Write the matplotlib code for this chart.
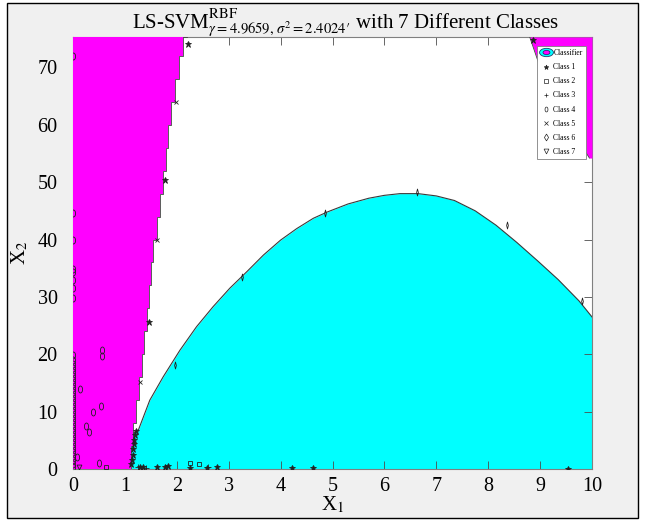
import matplotlib
matplotlib.use("Agg")
import matplotlib.pyplot as plt
from matplotlib.lines import Line2D
from matplotlib.patches import Rectangle
from matplotlib.path import Path
from matplotlib.transforms import Affine2D
from matplotlib.legend_handler import HandlerTuple

plt.rcParams["font.family"] = ["Liberation Serif", "DejaVu Serif"]
plt.rcParams["mathtext.fontset"] = "stix"

# decision region boundaries
mag_y = [0, 4, 8, 12, 16, 20, 24, 28, 32, 36, 40, 44, 48, 52, 56, 60, 64, 68, 72, 75.3]
mag_x = [1.12, 1.16, 1.22, 1.27, 1.32, 1.37, 1.42, 1.46, 1.5, 1.55, 1.62, 1.68,
         1.74, 1.79, 1.84, 1.89, 1.96, 2.04, 2.12, 2.19]
corner_y = [54.2, 60, 65, 70, 75.3]
corner_x = [9.95, 9.55, 9.25, 9.0, 8.8]
cyan_x = [1.12, 1.26, 1.48, 1.74, 2.06, 2.38, 2.7, 3.02, 3.35, 3.67, 4.0, 4.31,
          4.63, 4.9, 5.3, 5.7, 6.0, 6.3, 6.65, 7.0, 7.35, 7.75, 8.15, 8.55, 8.95,
          9.35, 9.75, 10.0]
cyan_y = [6.0, 6.8, 12.0, 16.1, 20.7, 24.8, 28.3, 31.5, 34.4, 37.3, 39.9, 41.9,
          43.7, 44.8, 46.2, 47.2, 47.7, 48.0, 48.0, 47.6, 46.8, 45.0, 42.5, 39.5,
          36.3, 33.0, 29.3, 26.5]

# samples of each class
c1_x = [1.12, 1.13, 1.15, 1.16, 1.17, 1.18, 1.2, 1.22, 1.29, 1.35, 1.62, 1.77,
        1.84, 2.25, 2.58, 2.77, 4.22, 4.63, 9.54, 1.46, 1.78, 2.22, 8.86]
c1_y = [0.8, 1.6, 2.5, 3.4, 4.3, 5.1, 5.9, 6.7, 0.4, 0.3, 0.4, 0.4, 0.5, 0.1,
        0.2, 0.4, 0.1, 0.1, 0.0, 25.6, 50.4, 74.1, 74.8]
c2_x = [0.64, 2.25, 2.43]
c2_y = [0.4, 1.0, 0.8]
c3_x = [1.25, 1.4, 2.6]
c3_y = [0.3, 0.2, 0.3]
c4_x = [0, 0, 0, 0, 0, 0, 0, 0, 0, 0, 0, 0, 0, 0, 0, 0, 0, 0, 0, 0, 0, 0, 0, 0,
        0, 0, 0, 0, 0, 0, 0, 0, 0, 0, 0, 0, 0,
        0.55, 0.55, 0.13, 0.54, 0.39, 0.25, 0.3, 0.51, 0.07]
c4_y = [0.3, 0.9, 1.5, 2.2, 2.9, 3.6, 4.3, 5.0, 5.7, 6.4, 7.1, 7.8, 8.5, 9.2,
        9.9, 10.6, 11.3, 12.0, 12.7, 13.4, 14.1, 14.8, 15.5, 16.2, 16.9, 17.6,
        18.3, 19.0, 19.9, 29.8, 31.5, 33.0, 34.3, 34.8, 39.9, 44.6, 72.0,
        20.7, 19.7, 13.9, 11.0, 9.9, 7.5, 6.4, 1.0, 2.1]
c5_x = [1.61, 1.99, 1.29]
c5_y = [39.9, 64.0, 15.2]
c6_x = [1.97, 3.25, 4.86, 6.63, 8.37, 9.8]
c6_y = [18.1, 33.5, 44.6, 48.2, 42.6, 29.2]
c7_x = [0.12]
c7_y = [0.4]

x_ticks = [0, 1, 2, 3, 4, 5, 6, 7, 8, 9, 10]
y_ticks = [0, 10, 20, 30, 40, 50, 60, 70]

MAG = "#ff00ff"
CYAN = "#00ffff"

# tall oval / thin diamond markers like the stretched MATLAB ones
oval = Path.unit_circle().transformed(Affine2D().scale(0.6, 1.0))
wide_oval = Path.unit_circle().transformed(Affine2D().scale(1.0, 0.6))
thin_dia = Path([(0, -1), (0.25, 0), (0, 1), (-0.25, 0), (0, -1)],
                [Path.MOVETO, Path.LINETO, Path.LINETO, Path.LINETO, Path.CLOSEPOLY])

fig = plt.figure(figsize=(6.47, 5.23), dpi=100)
fig.patch.set_facecolor("white")
fig.patches.append(Rectangle((7 / 647, 5 / 523), 631 / 647, 515 / 523,
                             transform=fig.transFigure, facecolor="#f0f0f0",
                             edgecolor="black", linewidth=1.0, zorder=-10))

ax = fig.add_axes([73 / 647, 54 / 523, 519 / 647, 432 / 523])
ax.set_facecolor("white")

ax.fill_between(cyan_x, 0, cyan_y, color=CYAN, linewidth=0, zorder=1)
ax.plot(cyan_x, cyan_y, color="#3a3a3a", linewidth=0.8, zorder=2)
ax.fill_betweenx(mag_y, 0, mag_x, step="post", color=MAG, linewidth=0, zorder=3)
ax.plot(mag_x, mag_y, drawstyle="steps-pre", color="#404040", linewidth=0.6, zorder=3)
ax.fill_betweenx(corner_y, corner_x, 10, color=MAG, linewidth=0, zorder=3)
ax.plot(corner_x, corner_y, color="#404040", linewidth=0.6, zorder=3)

mk = dict(linestyle="none", color="#222222", markeredgewidth=0.6, zorder=5)
ax.plot(c1_x, c1_y, marker="*", markersize=5, **mk)
ax.plot(c2_x, c2_y, marker="s", markersize=3.5, markerfacecolor="none", **mk)
ax.plot(c3_x, c3_y, marker="+", markersize=4, **mk)
ax.plot(c4_x, c4_y, marker=oval, markersize=5, markerfacecolor="none", **mk)
ax.plot(c5_x, c5_y, marker="x", markersize=3.5, **mk)
ax.plot(c6_x, c6_y, marker=thin_dia, markersize=5, markerfacecolor="none", **mk)
ax.plot(c7_x, c7_y, marker="v", markersize=3.5, markerfacecolor="none", **mk)

ax.set_xlim(0, 10)
ax.set_ylim(0, 75.3)
ax.set_xticks(x_ticks)
ax.set_yticks(y_ticks)
ax.tick_params(direction="in", top=True, right=True, length=5.5, width=0.6,
               color="#4d4d4d", labelsize=14.5)
ax.tick_params(axis="y", pad=11)
ax.tick_params(axis="x", pad=6)
for s in ax.spines.values():
    s.set_color("#808080")
    s.set_linewidth(0.8)

ax.set_xlabel(r"X$_1$", fontsize=15, labelpad=-1)
ax.set_ylabel(r"X$_2$", fontsize=15, labelpad=5)
ax.set_title(r"LS-SVM$^{\mathrm{RBF}}_{\gamma=4.9659,\,\sigma^2=2.4024\prime}$ with 7 Different Classes",
             fontsize=15, pad=6.3, x=0.525)

# legend, classifier icon = two stacked ellipses
h_cls = (Line2D([], [], linestyle="none", marker=wide_oval, markersize=10,
                markerfacecolor=CYAN, markeredgecolor="#1f3f6f", markeredgewidth=0.6),
         Line2D([], [], linestyle="none", marker=wide_oval, markersize=5,
                markerfacecolor=MAG, markeredgecolor="#202060", markeredgewidth=0.5))
lk = dict(linestyle="none", color="#222222", markeredgewidth=0.5, markersize=3.5)
handles = [h_cls,
           Line2D([], [], marker="*", **lk),
           Line2D([], [], marker="s", markerfacecolor="none", **lk),
           Line2D([], [], marker="+", **lk),
           Line2D([], [], marker=oval, markerfacecolor="none", **lk),
           Line2D([], [], marker="x", **lk),
           Line2D([], [], marker="d", markerfacecolor="none", **lk),
           Line2D([], [], marker="v", markerfacecolor="none", **lk)]
labels = ["Classifier", "Class 1", "Class 2", "Class 3", "Class 4", "Class 5",
          "Class 6", "Class 7"]
leg = ax.legend(handles, labels, loc="upper right", bbox_to_anchor=(0.988, 0.979),
                borderaxespad=0, fontsize=5.5, handlelength=1.4, handletextpad=0.3,
                labelspacing=0.8, borderpad=0.4, fancybox=False, framealpha=1,
                edgecolor="#808080", handler_map={tuple: HandlerTuple(ndivide=1)})
leg.get_frame().set_linewidth(0.6)
leg.set_zorder(10)

fig.savefig("out.png", dpi=100)
